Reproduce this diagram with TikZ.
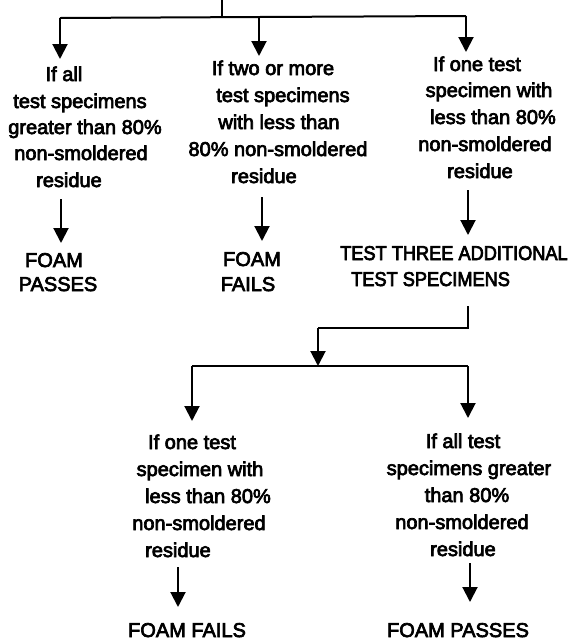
\documentclass[tikz,border=0pt]{standalone}
\usepackage{fontspec}
\newfontfamily\mainfnt{Liberation Sans}
\newfontfamily\narrowfont[FakeStretch=0.91]{Liberation Sans}
\newcommand{\heavytxt}[1]{\special{pdf:code 2 Tr 0.7 w}#1\special{pdf:code 0 Tr}}
\usetikzlibrary{arrows.meta}
\begin{document}
\begin{tikzpicture}[x=1pt,y=-1pt,
  txt/.style={font=\mainfnt\fontsize{20}{24}\selectfont, inner sep=0pt, anchor=base},
  txtl/.style={font=\narrowfont\fontsize{20}{24}\selectfont, inner sep=0pt, anchor=base west},
  line/.style={line width=2pt},
  arr/.style={line width=2pt, -{Triangle[width=15pt,length=15pt]}}]
\useasboundingbox (0,0) rectangle (581,641);
% --- column A
\node[txt] (a1) at (64,81) {\heavytxt{If all}};
\node[txt] (a2) at (80,108) {\heavytxt{test specimens}};
\node[txt] (a3) at (85,134) {\heavytxt{greater than 80\%}};
\node[txt] (a4) at (81,160) {\heavytxt{non-smoldered}};
\node[txt] (a5) at (69,187) {\heavytxt{residue}};
\node[txt] (a6) at (54,267) {\heavytxt{FOAM}};
\node[txt] (a7) at (58,291) {\heavytxt{PASSES}};
% --- column B
\node[txt] (b1) at (273,75) {\heavytxt{If two or more}};
\node[txt] (b2) at (283,102) {\heavytxt{test specimens}};
\node[txt] (b3) at (279,129) {\heavytxt{with less than}};
\node[txt] (b4) at (278,156) {\heavytxt{80\% non-smoldered}};
\node[txt] (b5) at (264,183) {\heavytxt{residue}};
\node[txt] (b6) at (252,266) {\heavytxt{FOAM}};
\node[txt] (b7) at (248,291) {\heavytxt{FAILS}};
% --- column C
\node[txt] (c1) at (477,71) {\heavytxt{If one test}};
\node[txt] (c2) at (489,97) {\heavytxt{specimen with}};
\node[txt] (c3) at (493,124) {\heavytxt{less than 80\%}};
\node[txt] (c4) at (485,151) {\heavytxt{non-smoldered}};
\node[txt] (c5) at (480,178) {\heavytxt{residue}};
\node[txtl] (c6) at (340,260) {\heavytxt{TEST THREE ADDITIONAL}};
\node[txtl] (c7) at (351,286) {\heavytxt{TEST SPECIMENS}};
% --- column D
\node[txt] (d1) at (192,449) {\heavytxt{If one test}};
\node[txt] (d2) at (200,476) {\heavytxt{specimen with}};
\node[txt] (d3) at (208,503) {\heavytxt{less than 80\%}};
\node[txt] (d4) at (199,530) {\heavytxt{non-smoldered}};
\node[txt] (d5) at (178,557) {\heavytxt{residue}};
\node[txt] (d6) at (187,637) {\heavytxt{FOAM FAILS}};
% --- column E
\node[txt] (e1) at (463,448) {\heavytxt{If all test}};
\node[txt] (e2) at (469,475) {\heavytxt{specimens greater}};
\node[txt] (e3) at (467,502) {\heavytxt{than 80\%}};
\node[txt] (e4) at (462,529) {\heavytxt{non-smoldered}};
\node[txt] (e5) at (463,556) {\heavytxt{residue}};
\node[txt] (e6) at (458,637) {\heavytxt{FOAM PASSES}};
% --- junction coordinates
\coordinate (top) at (222,0);
\coordinate (topj) at (222,17);
\coordinate (ja) at (60,18);
\coordinate (jb) at (259,17);
\coordinate (jc) at (466,16);
\coordinate (ta) at (60,59);
\coordinate (tb) at (259,56);
\coordinate (tc) at (466,52);
\coordinate (sa) at (61,199);
\coordinate (ea) at (61,243);
\coordinate (sb) at (262,197);
\coordinate (eb) at (262,241);
\coordinate (sc) at (468,190);
\coordinate (ec) at (468,235);
\coordinate (s2) at (468,306);
\coordinate (j2) at (468,328);
\coordinate (j3) at (318,328);
\coordinate (t3) at (318,366);
\coordinate (jd) at (192,366);
\coordinate (je) at (468,366);
\coordinate (td) at (192,421);
\coordinate (te) at (468,418);
\coordinate (sd) at (178,567);
\coordinate (ed) at (178,607);
\coordinate (se) at (470,563);
\coordinate (ee) at (470,602);
% --- connectors
\draw[line] (top) -- (topj);
\draw[line] (ja) -- (jb) -- (jc);
\draw[arr] (ja) -- (ta);
\draw[arr] (jb) -- (tb);
\draw[arr] (jc) -- (tc);
\draw[arr] (sa) -- (ea);
\draw[arr] (sb) -- (eb);
\draw[arr] (sc) -- (ec);
\draw[line] (s2) -- (j2) -- (j3);
\draw[arr] (j3) -- (t3);
\draw[line] (jd) -- (je);
\draw[arr] (jd) -- (td);
\draw[arr] (je) -- (te);
\draw[arr] (sd) -- (ed);
\draw[arr] (se) -- (ee);
\end{tikzpicture}
\end{document}
